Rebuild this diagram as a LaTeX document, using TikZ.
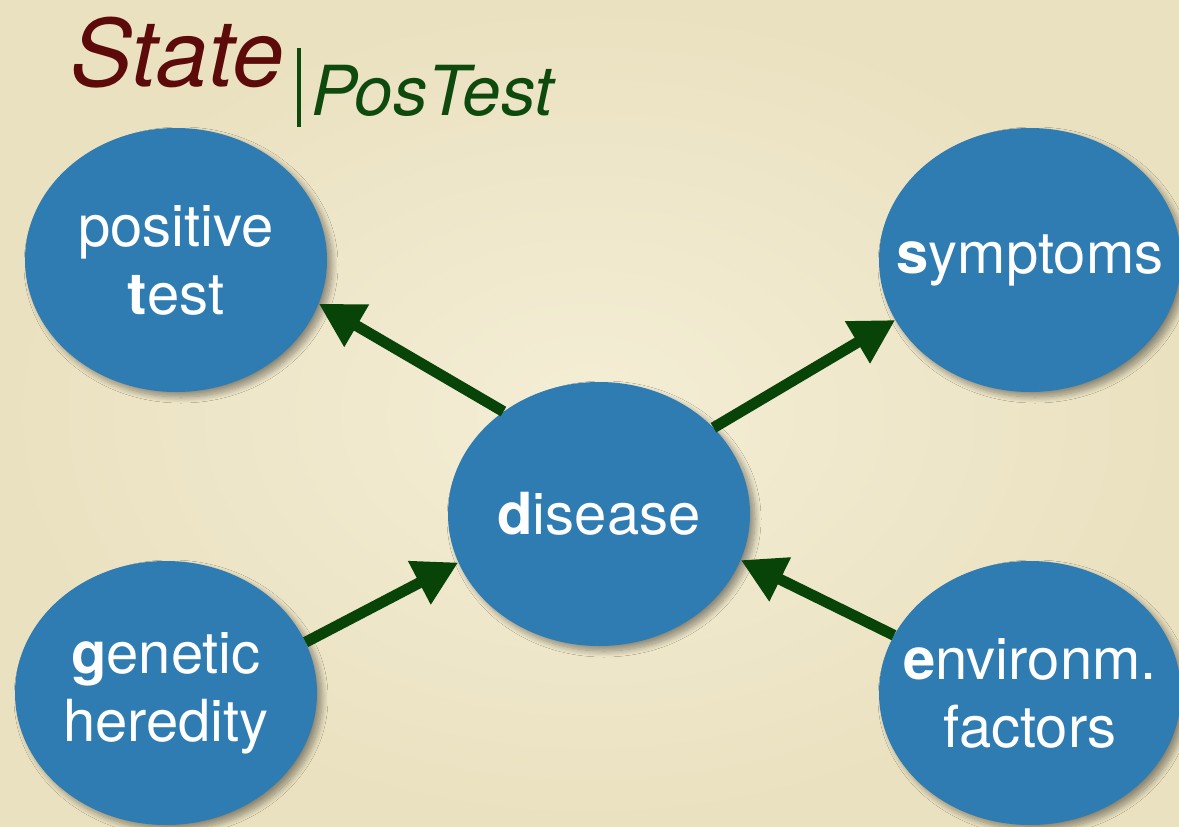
\documentclass[tikz,border=0pt]{standalone}
\usepackage{fontspec}
\setmainfont{TeX Gyre Heros}
\usetikzlibrary{shapes.geometric,arrows.meta,shadows.blur}

\definecolor{paperlight}{RGB}{244,238,214}
\definecolor{paperdark}{RGB}{234,225,192}
\definecolor{nodeblue}{RGB}{46,124,178}
\definecolor{arrowgreen}{RGB}{8,68,8}
\definecolor{titlered}{RGB}{92,10,10}
\definecolor{titlegreen}{RGB}{14,74,14}
\definecolor{shadowbrown}{RGB}{70,55,25}

\tikzset{
  varnode/.style={
    ellipse, fill=nodeblue, draw=none, inner sep=0pt,
    minimum width=302pt, minimum height=264pt,
    blur shadow={shadow xshift=5pt, shadow yshift=-5pt,
                 shadow blur radius=6pt, shadow opacity=40,
                 shadow blur steps=12}
  },
  vartext/.style={
    text=white, align=center, inner sep=0pt,
    font=\fontsize{58}{68}\selectfont
  },
  depends/.style={
    draw=arrowgreen, line width=11pt,
    -{Triangle[length=44pt,width=46pt]}
  },
  titletext/.style={inner sep=0pt, anchor=base west}
}

\begin{document}
\begin{tikzpicture}[x=1pt,y=-1pt]
  \useasboundingbox (0,0) rectangle (1179,827);
  % paper background with a soft vignette
  \shade[inner color=paperlight, outer color=paperdark] (0,0) rectangle (1179,827);

  % heading: State conditioned on a positive test
  \node[titletext, text=titlered, font=\itshape\fontsize{93}{93}\selectfont]
    (state) at (70,86) {State};
  \draw[titlegreen, line width=3.5pt] (299,48) -- (299,127);
  \node[titletext, text=titlegreen, font=\itshape\fontsize{69}{69}\selectfont]
    (cond) at (311,115) {PosTest};

  % variables
  \node[varnode, label={[vartext]center:{positive\\\textbf{t}est}}]
    (test) at (176,260) {};
  \node[varnode, label={[vartext]center:{\textbf{s}ymptoms}}]
    (symp) at (1030,260) {};
  \node[varnode, label={[vartext]center:{\textbf{d}isease}}]
    (dis) at (599,514) {};
  \node[varnode, label={[vartext]center:{\textbf{g}enetic\\heredity}}]
    (gen) at (166,693) {};
  \node[varnode, label={[vartext]center:{\textbf{e}nvironm.\\factors}}]
    (env) at (1030,693) {};

  % dependencies
  \draw[depends] (dis.133.5) -- (test.-17);
  \draw[depends] (dis.37.7) -- (symp.204.8);
  \draw[depends] (gen.20.3) -- (dis.199);
  \draw[depends] (env.157) -- (dis.-18.3);
\end{tikzpicture}
\end{document}
